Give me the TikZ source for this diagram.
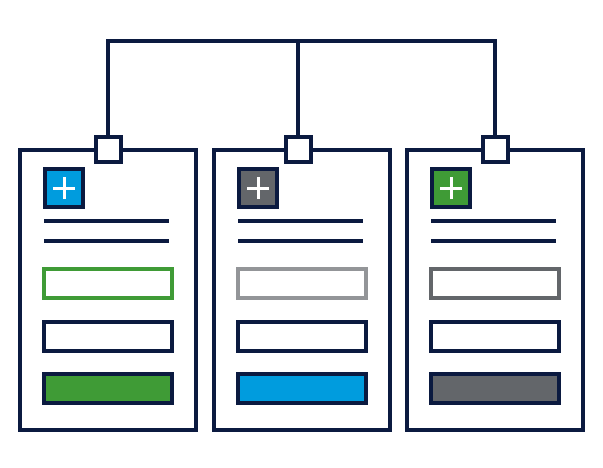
\documentclass[tikz,border=0pt]{standalone}
\usepackage{tikz}
\usetikzlibrary{positioning}
\definecolor{navy}{HTML}{0B1A40}
\definecolor{skyblue}{HTML}{009CDE}
\definecolor{leafgreen}{HTML}{3F9B36}
\definecolor{slategray}{HTML}{63666A}
\definecolor{lightgray}{HTML}{939598}

\begin{document}
\begin{tikzpicture}[x=1pt, y=-1pt,
  card/.style={
    draw=navy, line width=4pt, fill=white,
    minimum width=176pt, minimum height=280pt,
    inner sep=0pt, outer sep=0pt
  },
  tab/.style={draw=navy, line width=4pt, fill=white,
    minimum size=25pt, inner sep=0pt},
  plus/.style={draw=navy, line width=3.5pt, fill=#1,
    minimum size=38pt, inner sep=0pt,
    path picture={
      \draw[white, line width=3pt]
        ([xshift=-11pt]path picture bounding box.center) --
        ([xshift=11pt]path picture bounding box.center)
        ([yshift=-11pt]path picture bounding box.center) --
        ([yshift=11pt]path picture bounding box.center);
    }},
  field/.style={draw=#1, line width=4pt,
    minimum width=128pt, minimum height=29pt, inner sep=0pt},
  field/.default=navy,
  rule/.style={navy, line width=4pt},
  wire/.style={navy, line width=4pt}]

\useasboundingbox (0,0) rectangle (603,467);

% Three cards — evenly spaced
\node[card] (c1) at (108,289.5) {};
\node[card] (c2) at (302,289.5) {};
\node[card] (c3) at (495,289.5) {};

% Tabs on top edge
\node[tab] (t1) at (c1.north) {};
\node[tab, xshift=-4pt] (t2) at (c2.north) {};
\node[tab] (t3) at (c3.north) {};

% Bracket joining the tabs
\coordinate (top) at (0,41);
\draw[wire] (t1.north) -- (t1.north |- top)
  -- (t3.north |- top) -- (t3.north);
\draw[wire] (t2.north) -- (t2.north |- top);

% Card 1
\node[plus=skyblue] (p1) at ([shift={(44,38.5)}]c1.north west) {};
\draw[rule] ([shift={(24,71.5)}]c1.north west) -- ++(125,0);
\draw[rule] ([shift={(24,91.5)}]c1.north west) -- ++(125,0);
\node[field=leafgreen] (a1) at ([yshift=-134pt]c1.north) {};
\node[field] (b1) at ([yshift=-186.5pt]c1.north) {};
\node[field, fill=leafgreen] (d1) at ([yshift=-239pt]c1.north) {};

% Card 2
\node[plus=slategray] (p2) at ([shift={(44,38.5)}]c2.north west) {};
\draw[rule] ([shift={(24,71.5)}]c2.north west) -- ++(125,0);
\draw[rule] ([shift={(24,91.5)}]c2.north west) -- ++(125,0);
\node[field=lightgray] (a2) at ([yshift=-134pt]c2.north) {};
\node[field] (b2) at ([yshift=-186.5pt]c2.north) {};
\node[field, fill=skyblue] (d2) at ([yshift=-239pt]c2.north) {};

% Card 3
\node[plus=leafgreen] (p3) at ([shift={(44,38.5)}]c3.north west) {};
\draw[rule] ([shift={(24,71.5)}]c3.north west) -- ++(125,0);
\draw[rule] ([shift={(24,91.5)}]c3.north west) -- ++(125,0);
\node[field=slategray] (a3) at ([yshift=-134pt]c3.north) {};
\node[field] (b3) at ([yshift=-186.5pt]c3.north) {};
\node[field, fill=slategray] (d3) at ([yshift=-239pt]c3.north) {};

\end{tikzpicture}
\end{document}
